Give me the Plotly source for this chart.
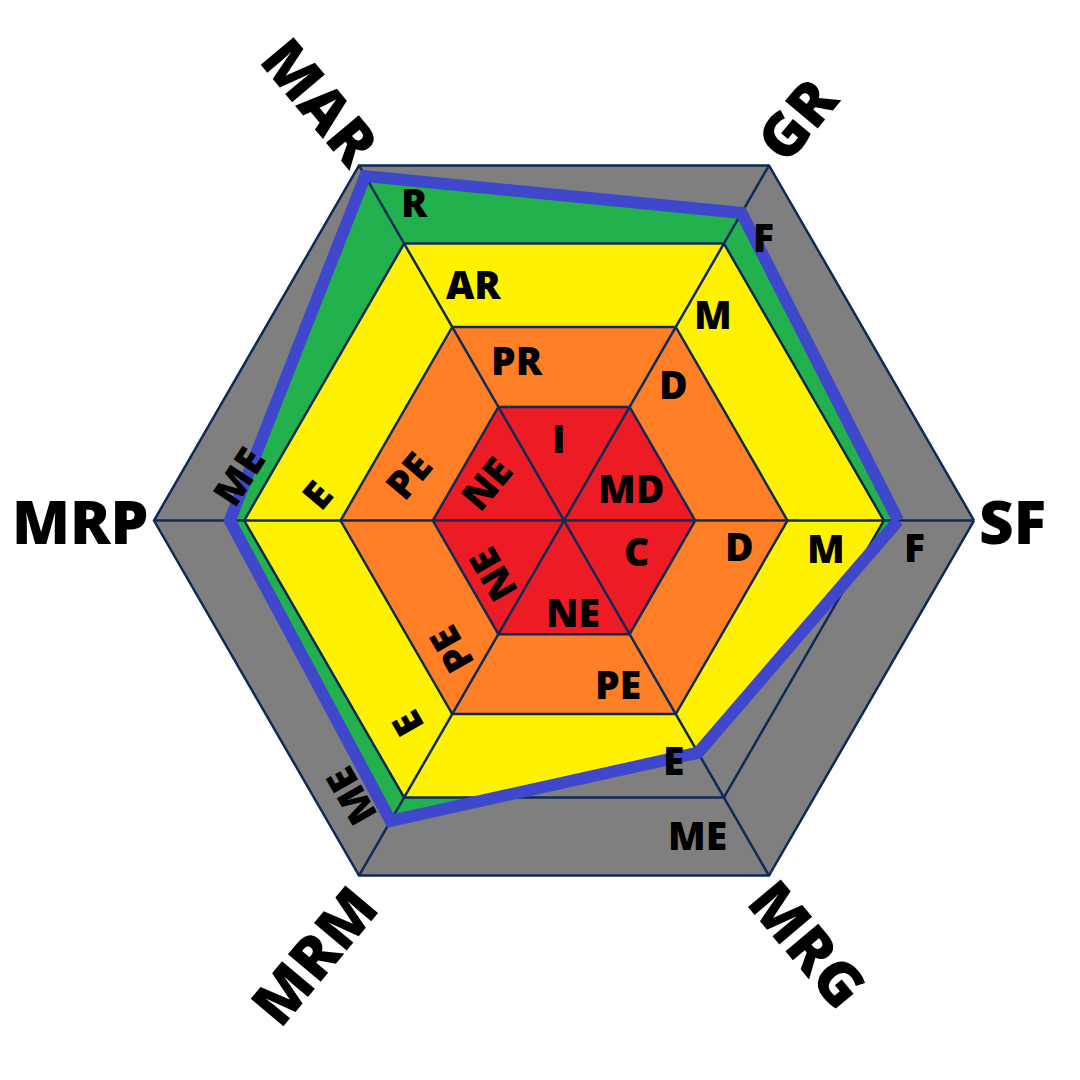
import numpy as np
import plotly.graph_objects as go

# ---------------- data ----------------
axes_labels = ["SF", "GR", "MAR", "MRP", "MRM", "MRG"]
axis_angles = [0, 60, 120, 180, 240, 300]           # degrees, counter-clockwise
scores = [81.5, 86.6, 97.0, 81.5, 84.6, 65.4]       # blue profile (outer ring = 100)

band_names = ["red", "orange", "yellow", "outer"]
band_radii = [32.0, 54.5, 78.0, 100.0]

# band labels: text, radius, angle (deg), rotation
band_text = ["I", "MD", "C", "NE", "NE", "NE",
             "PR", "D", "D", "PE", "PE", "PE",
             "AR", "M", "M", "E", "E", "E",
             "R", "F", "F", "ME", "ME", "ME"]
band_text_r = [20.4, 18.2, 19.0, 22.4, 22.0, 21.1,
               41.0, 42.9, 43.1, 41.8, 42.1, 39.6,
               61.8, 62.3, 64.2, 64.0, 62.7, 60.8,
               85.9, 84.7, 85.8, 83.2, 85.3, 80.3]
band_text_theta = [93.4, 25.9, -22.3, -84.4, 217.1, 154.3,
                   106.2, 51.3, -8.0, -71.6, 228.7, 163.7,
                   111.0, 54.3, -5.8, -65.4, 232.3, 174.1,
                   115.2, 55.0, -4.2, -66.9, 232.3, 172.1]
band_text_rot = [0, 0, 0, 0, -120, -50,
                 0, 0, 0, 0, -120, -50,
                 0, 0, 0, 0, -120, -50,
                 0, 0, 0, 0, -120, -57]

axis_label_r = [109.3, 113.4, 118.0, 118.0, 122.4, 119.1]
axis_label_rot = [0, -50, 50, 0, -50, 50]

# ---------------- styles ----------------
band_colors = ["#ed1c24", "#ff7f27", "#fff200", "#22b14c"]
gray = "#7f7f7f"
navy = "#0e2a57"
blue = "#3f48cc"
FONT = "Open Sans, DejaVu Sans, sans-serif"


def hexagon(r):
    a = np.radians(axis_angles)
    return np.column_stack([r * np.cos(a), r * np.sin(a)])


def clip(subject, clipper):
    """Sutherland-Hodgman: clip polygon `subject` by convex CCW polygon `clipper`."""
    out = [tuple(p) for p in subject]
    n = len(clipper)
    for i in range(n):
        A = np.array(clipper[i]); B = np.array(clipper[(i + 1) % n])
        inp = out
        out = []
        if not inp:
            break

        def inside(p):
            return (B[0] - A[0]) * (p[1] - A[1]) - (B[1] - A[1]) * (p[0] - A[0]) >= -1e-9

        def inter(S, E):
            S = np.array(S); E = np.array(E)
            d1 = E - S; d2 = B - A
            den = d1[0] * d2[1] - d1[1] * d2[0]
            t = ((A - S)[0] * d2[1] - (A - S)[1] * d2[0]) / den
            return tuple(S + t * d1)

        S = inp[-1]
        for E in inp:
            if inside(E):
                if not inside(S):
                    out.append(inter(S, E))
                out.append(E)
            elif inside(S):
                out.append(inter(S, E))
            S = E
    return np.array(out)


ang = np.radians(axis_angles)
profile = np.column_stack([np.array(scores) * np.cos(ang), np.array(scores) * np.sin(ang)])

fig = go.Figure()


def closed(poly):
    return list(poly[:, 0]) + [poly[0, 0]], list(poly[:, 1]) + [poly[0, 1]]


# outer gray hexagon
x, y = closed(hexagon(band_radii[-1]))
fig.add_trace(go.Scatter(x=x, y=y, fill="toself", fillcolor=gray, mode="lines",
                         line=dict(width=0), hoverinfo="skip"))

# coloured bands, only inside the profile
for r, col in zip(band_radii[::-1], band_colors[::-1]):
    poly = clip(profile, hexagon(r))
    if len(poly) >= 3:
        x, y = closed(poly)
        fig.add_trace(go.Scatter(x=x, y=y, fill="toself", fillcolor=col, mode="lines",
                                 line=dict(width=0), hoverinfo="skip"))

# ring outlines
for r in band_radii:
    x, y = closed(hexagon(r))
    fig.add_trace(go.Scatter(x=x, y=y, mode="lines", line=dict(color=navy, width=2.5),
                             hoverinfo="skip"))

# spokes
sx, sy = [], []
for a in ang:
    sx += [0, band_radii[-1] * np.cos(a), None]
    sy += [0, band_radii[-1] * np.sin(a), None]
fig.add_trace(go.Scatter(x=sx, y=sy, mode="lines", line=dict(color=navy, width=2.5),
                         hoverinfo="skip"))

# profile line
x, y = closed(profile)
fig.add_trace(go.Scatter(x=x, y=y, mode="lines", line=dict(color=blue, width=12),
                         hoverinfo="skip"))

annotations = []
for t, r, th, rot in zip(band_text, band_text_r, band_text_theta, band_text_rot):
    annotations.append(dict(x=r * np.cos(np.radians(th)), y=r * np.sin(np.radians(th)),
                            text=t, showarrow=False, textangle=rot,
                            xanchor="center", yanchor="middle",
                            font=dict(family=FONT, size=39, color="black", weight=800)))
for t, r, th, rot in zip(axes_labels, axis_label_r, axis_angles, axis_label_rot):
    annotations.append(dict(x=r * np.cos(np.radians(th)), y=r * np.sin(np.radians(th)),
                            text=t, showarrow=False, textangle=rot,
                            xanchor="center", yanchor="middle",
                            font=dict(family=FONT, size=60, color="black", weight=800)))

fig.update_layout(
    width=1080, height=1080,
    margin=dict(l=0, r=0, t=0, b=0),
    paper_bgcolor="white", plot_bgcolor="white",
    showlegend=False,
    annotations=annotations,
    xaxis=dict(range=[-135.61, 127.80], visible=False, fixedrange=True),
    yaxis=dict(range=[-138.41, 125.0], visible=False, fixedrange=True),
)

fig.write_html("out.html")
